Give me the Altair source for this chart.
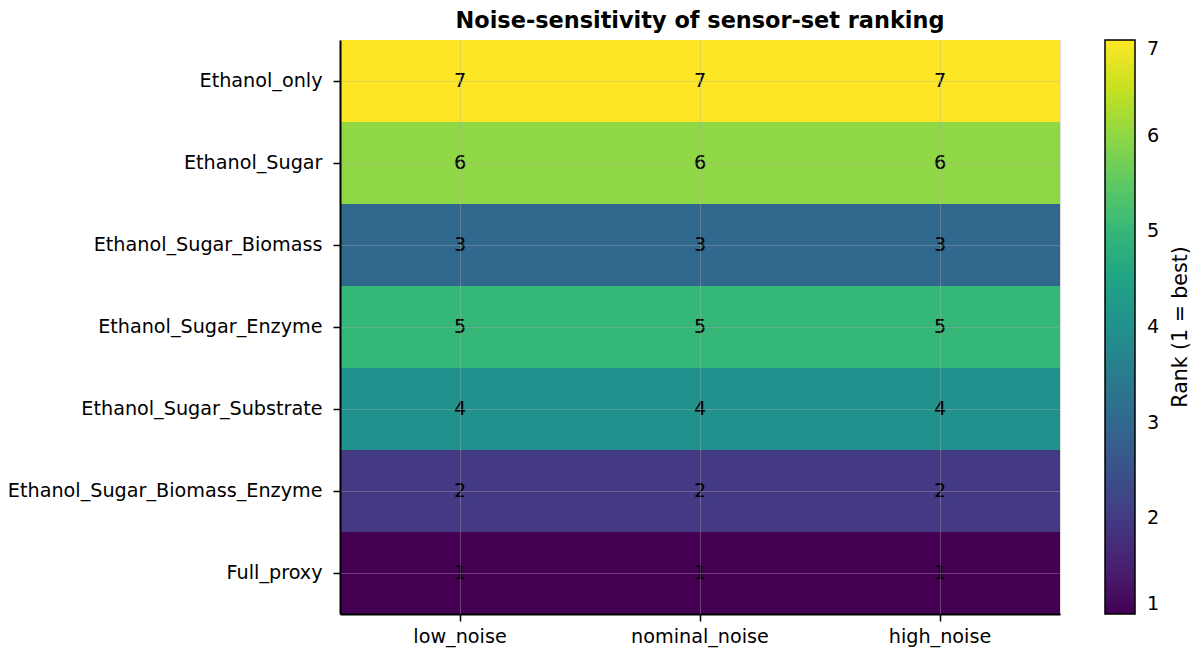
import altair as alt
import pandas as pd

sensor_sets = ["Ethanol_only", "Ethanol_Sugar", "Ethanol_Sugar_Biomass", "Ethanol_Sugar_Enzyme",
               "Ethanol_Sugar_Substrate", "Ethanol_Sugar_Biomass_Enzyme", "Full_proxy"]
noise_levels = ["low_noise", "nominal_noise", "high_noise"]
rank_low = [7, 6, 3, 5, 4, 2, 1]
rank_nominal = [7, 6, 3, 5, 4, 2, 1]
rank_high = [7, 6, 3, 5, 4, 2, 1]
colorbar_ticks = [1, 2, 3, 4, 5, 6, 7]
colorbar_title = "Rank (1 = best)"

rows = []
for lvl, ranks in zip(noise_levels, [rank_low, rank_nominal, rank_high]):
    for s, r in zip(sensor_sets, ranks):
        rows.append({"sensor_set": s, "noise": lvl, "rank": r})
df = pd.DataFrame(rows)

FONT = "DejaVu Sans"
LBL = 19.2

common_axis = dict(labelFontSize=LBL, labelFont=FONT, labelColor="black",
                   tickColor="black", tickSize=7, tickWidth=1.5, domainColor="black",
                   domainWidth=2, grid=True, gridColor="#b0b0b0", gridOpacity=0.35,
                   gridWidth=1, bandPosition=0.5, zindex=1, labelLimit=500)

x_enc = alt.X("noise:N", sort=noise_levels, title=None,
              axis=alt.Axis(labelAngle=0, labelPadding=6, **common_axis))
y_enc = alt.Y("sensor_set:N", sort=sensor_sets, title=None,
              axis=alt.Axis(labelPadding=11, **common_axis))

heat = alt.Chart(df).mark_rect().encode(
    x=x_enc, y=y_enc,
    color=alt.Color("rank:Q",
                    scale=alt.Scale(scheme="viridis", domain=[1, 7]),
                    legend=alt.Legend(title=None, format="d",
                                      values=colorbar_ticks, labelFontSize=LBL,
                                      labelFont=FONT, labelColor="black",
                                      labelBaseline="middle",
                                      gradientLength=574, gradientThickness=30,
                                      gradientStrokeColor="black", gradientStrokeWidth=1.5,
                                      offset=45, labelOffset=12, direction="vertical"))
)

text = alt.Chart(df).mark_text(fontSize=LBL, font=FONT, color="black").encode(
    x=alt.X("noise:N", sort=noise_levels),
    y=alt.Y("sensor_set:N", sort=sensor_sets),
    text="rank:Q",
)

cbar_title = alt.Chart(pd.DataFrame({"t": [colorbar_title]})).mark_text(
    angle=270, fontSize=20.5, font=FONT, color="black", baseline="middle", align="center"
).encode(x=alt.value(841), y=alt.value(287), text="t:N")

chart = (heat + text + cbar_title).properties(
    width=720, height=574,
    padding={"top": 9, "left": 7, "right": 5, "bottom": 5},
    title=alt.TitleParams("Noise-sensitivity of sensor-set ranking", fontSize=22.4, font=FONT,
                          fontWeight="bold", color="black", anchor="middle", offset=8),
).configure_view(stroke=None).configure(background="white")

chart.save("out.html", embed_options={"renderer": "svg", "actions": False})
